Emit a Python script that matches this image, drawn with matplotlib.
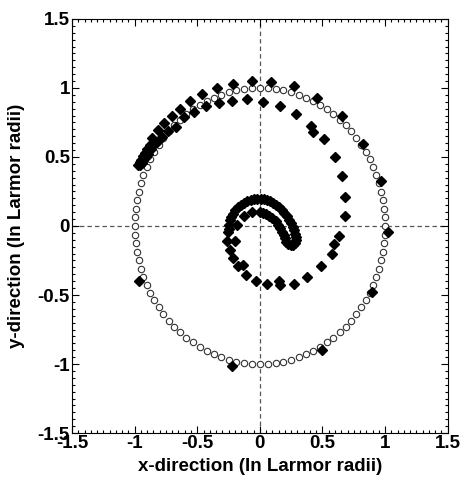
import matplotlib
matplotlib.use("Agg")
import matplotlib.pyplot as plt
from matplotlib.ticker import MultipleLocator

plt.rcParams['font.family'] = ['Liberation Sans', 'DejaVu Sans']
plt.rcParams['font.weight'] = 'bold'

# unit gyro-orbit (open circles)
ring_x = [1.000, 0.998, 0.992, 0.982, 0.969, 0.951, 0.930, 0.905, 0.876, 0.844,
          0.809, 0.771, 0.729, 0.685, 0.637, 0.588, 0.536, 0.482, 0.426, 0.368,
          0.309, 0.249, 0.187, 0.125, 0.063, 0.000,
          -0.063, -0.125, -0.187, -0.249, -0.309, -0.368, -0.426, -0.482, -0.536,
          -0.588, -0.637, -0.685, -0.729, -0.771, -0.809, -0.844, -0.876, -0.905,
          -0.930, -0.951, -0.969, -0.982, -0.992, -0.998, -1.000,
          -0.998, -0.992, -0.982, -0.969, -0.951, -0.930, -0.905, -0.876, -0.844,
          -0.809, -0.771, -0.729, -0.685, -0.637, -0.588, -0.536, -0.482, -0.426,
          -0.368, -0.309, -0.249, -0.187, -0.125, -0.063, 0.000,
          0.063, 0.125, 0.187, 0.249, 0.309, 0.368, 0.426, 0.482, 0.536, 0.588,
          0.637, 0.685, 0.729, 0.771, 0.809, 0.844, 0.876, 0.905, 0.930, 0.951,
          0.969, 0.982, 0.992, 0.998]
ring_y = [0.000, 0.063, 0.125, 0.187, 0.249, 0.309, 0.368, 0.426, 0.482, 0.536,
          0.588, 0.637, 0.685, 0.729, 0.771, 0.809, 0.844, 0.876, 0.905, 0.930,
          0.951, 0.969, 0.982, 0.992, 0.998, 1.000,
          0.998, 0.992, 0.982, 0.969, 0.951, 0.930, 0.905, 0.876, 0.844, 0.809,
          0.771, 0.729, 0.685, 0.637, 0.588, 0.536, 0.482, 0.426, 0.368, 0.309,
          0.249, 0.187, 0.125, 0.063, 0.000,
          -0.063, -0.125, -0.187, -0.249, -0.309, -0.368, -0.426, -0.482, -0.536,
          -0.588, -0.637, -0.685, -0.729, -0.771, -0.809, -0.844, -0.876, -0.905,
          -0.930, -0.951, -0.969, -0.982, -0.992, -0.998, -1.000,
          -0.998, -0.992, -0.982, -0.969, -0.951, -0.930, -0.905, -0.876, -0.844,
          -0.809, -0.771, -0.729, -0.685, -0.637, -0.588, -0.536, -0.482, -0.426,
          -0.368, -0.309, -0.249, -0.187, -0.125, -0.063]

# sparse part of the drifting orbit (filled diamonds)
spiral_x = [-0.963, -0.225, 0.500, 0.898, 1.020, 0.967, 0.826, 0.653, 0.459,
            0.275, 0.089, -0.065, -0.212, -0.345, -0.465, -0.558, -0.638, -0.705,
            -0.764, -0.810, -0.860,
            -0.880, -0.900, -0.920, -0.935, -0.950, -0.960, -0.970,
            -0.850, -0.870, -0.890, -0.910, -0.930, -0.945, -0.960,
            -0.824, -0.785, -0.730, -0.670, -0.604, -0.526, -0.430, -0.324,
            -0.220, -0.100, 0.027, 0.161, 0.286, 0.406, 0.427, 0.514, 0.600,
            0.653, 0.680, 0.680, 0.634, 0.594, 0.573, 0.486, 0.379, 0.272,
            0.160, 0.155, 0.054, -0.031, -0.111, -0.133, -0.173, -0.212,
            -0.239, -0.199, -0.265, -0.252, -0.185, -0.130, -0.065]
spiral_y = [-0.400, -1.011, -0.897, -0.480, -0.040, 0.325, 0.596, 0.800, 0.929,
            1.011, 1.042, 1.047, 1.030, 1.001, 0.953, 0.902, 0.849, 0.800,
            0.745, 0.692, 0.636,
            0.590, 0.560, 0.530, 0.505, 0.480, 0.460, 0.440,
            0.585, 0.555, 0.525, 0.500, 0.475, 0.455, 0.440,
            0.607, 0.643, 0.685, 0.716, 0.788, 0.825, 0.866, 0.890,
            0.909, 0.917, 0.897, 0.866, 0.813, 0.728, 0.680, 0.627, 0.499,
            0.359, 0.209, 0.069, -0.069, -0.129, -0.201, -0.293, -0.371, -0.419,
            -0.431, -0.400, -0.421, -0.397, -0.354, -0.281, -0.293, -0.230,
            -0.172, -0.110, -0.110, -0.045, 0.004, 0.076, 0.100]

# slow, densely sampled hook near the centre
hook_x = [-0.245, -0.245, -0.240, -0.230, -0.215, -0.195, -0.175, -0.150, -0.125,
          -0.100, -0.070, -0.045, -0.020, 0.005, 0.030, 0.055, 0.080, 0.105,
          0.130, 0.155, 0.175, 0.195, 0.215, 0.235, 0.250, 0.265, 0.275, 0.283,
          0.288, 0.288, 0.280, 0.265, 0.245, 0.225, 0.210, 0.200, 0.190, 0.178,
          0.163, 0.145, 0.125, 0.100, 0.075, 0.050, 0.025, 0.000]
hook_y = [-0.020, 0.010, 0.040, 0.065, 0.090, 0.115, 0.135, 0.155, 0.170,
          0.180, 0.190, 0.195, 0.198, 0.198, 0.196, 0.190, 0.180, 0.168,
          0.152, 0.135, 0.115, 0.095, 0.070, 0.045, 0.020, -0.005, -0.030, -0.055,
          -0.080, -0.100, -0.120, -0.135, -0.140, -0.132, -0.115, -0.090, -0.065,
          -0.040, -0.015, 0.010, 0.035, 0.058, 0.075, 0.088, 0.097, 0.103]

fig = plt.figure(figsize=(4.62, 4.86), dpi=100)
ax = fig.add_axes([0.156, 0.109, 0.813, 0.852])

ax.axhline(0, color='#555555', lw=0.9, ls=(0, (3.5, 2.5)), zorder=1)
ax.axvline(0, color='#555555', lw=0.9, ls=(0, (3.5, 2.5)), zorder=1)

ax.plot(ring_x, ring_y, ls='none', marker='o', ms=4.6, mfc='white',
        mec='#333333', mew=0.8, zorder=2)
ax.plot(spiral_x, spiral_y, ls='none', marker='D', ms=5.4, mfc='black',
        mec='black', zorder=3)
ax.plot(hook_x, hook_y, ls='none', marker='D', ms=5.4, mfc='black',
        mec='black', zorder=3)

ax.set_xlim(-1.5, 1.5)
ax.set_ylim(-1.5, 1.5)
ax.xaxis.set_major_locator(MultipleLocator(0.5))
ax.yaxis.set_major_locator(MultipleLocator(0.5))
ax.xaxis.set_minor_locator(MultipleLocator(0.05))
ax.yaxis.set_minor_locator(MultipleLocator(0.05))
ax.tick_params(which='both', direction='in', top=True, right=True, width=0.8)
ax.tick_params(which='major', length=5, labelsize=13.5, pad=1.5)
ax.tick_params(which='minor', length=2.5)
ax.xaxis.set_major_formatter(plt.FuncFormatter(lambda v, p: f'{v:g}'))
ax.yaxis.set_major_formatter(plt.FuncFormatter(lambda v, p: f'{v:g}'))

ax.set_xlabel('x-direction (In Larmor radii)', fontsize=13.5, fontweight='bold',
              labelpad=4)
ax.set_ylabel('y-direction (In Larmor radii)', fontsize=13.5, fontweight='bold',
              labelpad=9)

fig.savefig('out.png', dpi=100)
